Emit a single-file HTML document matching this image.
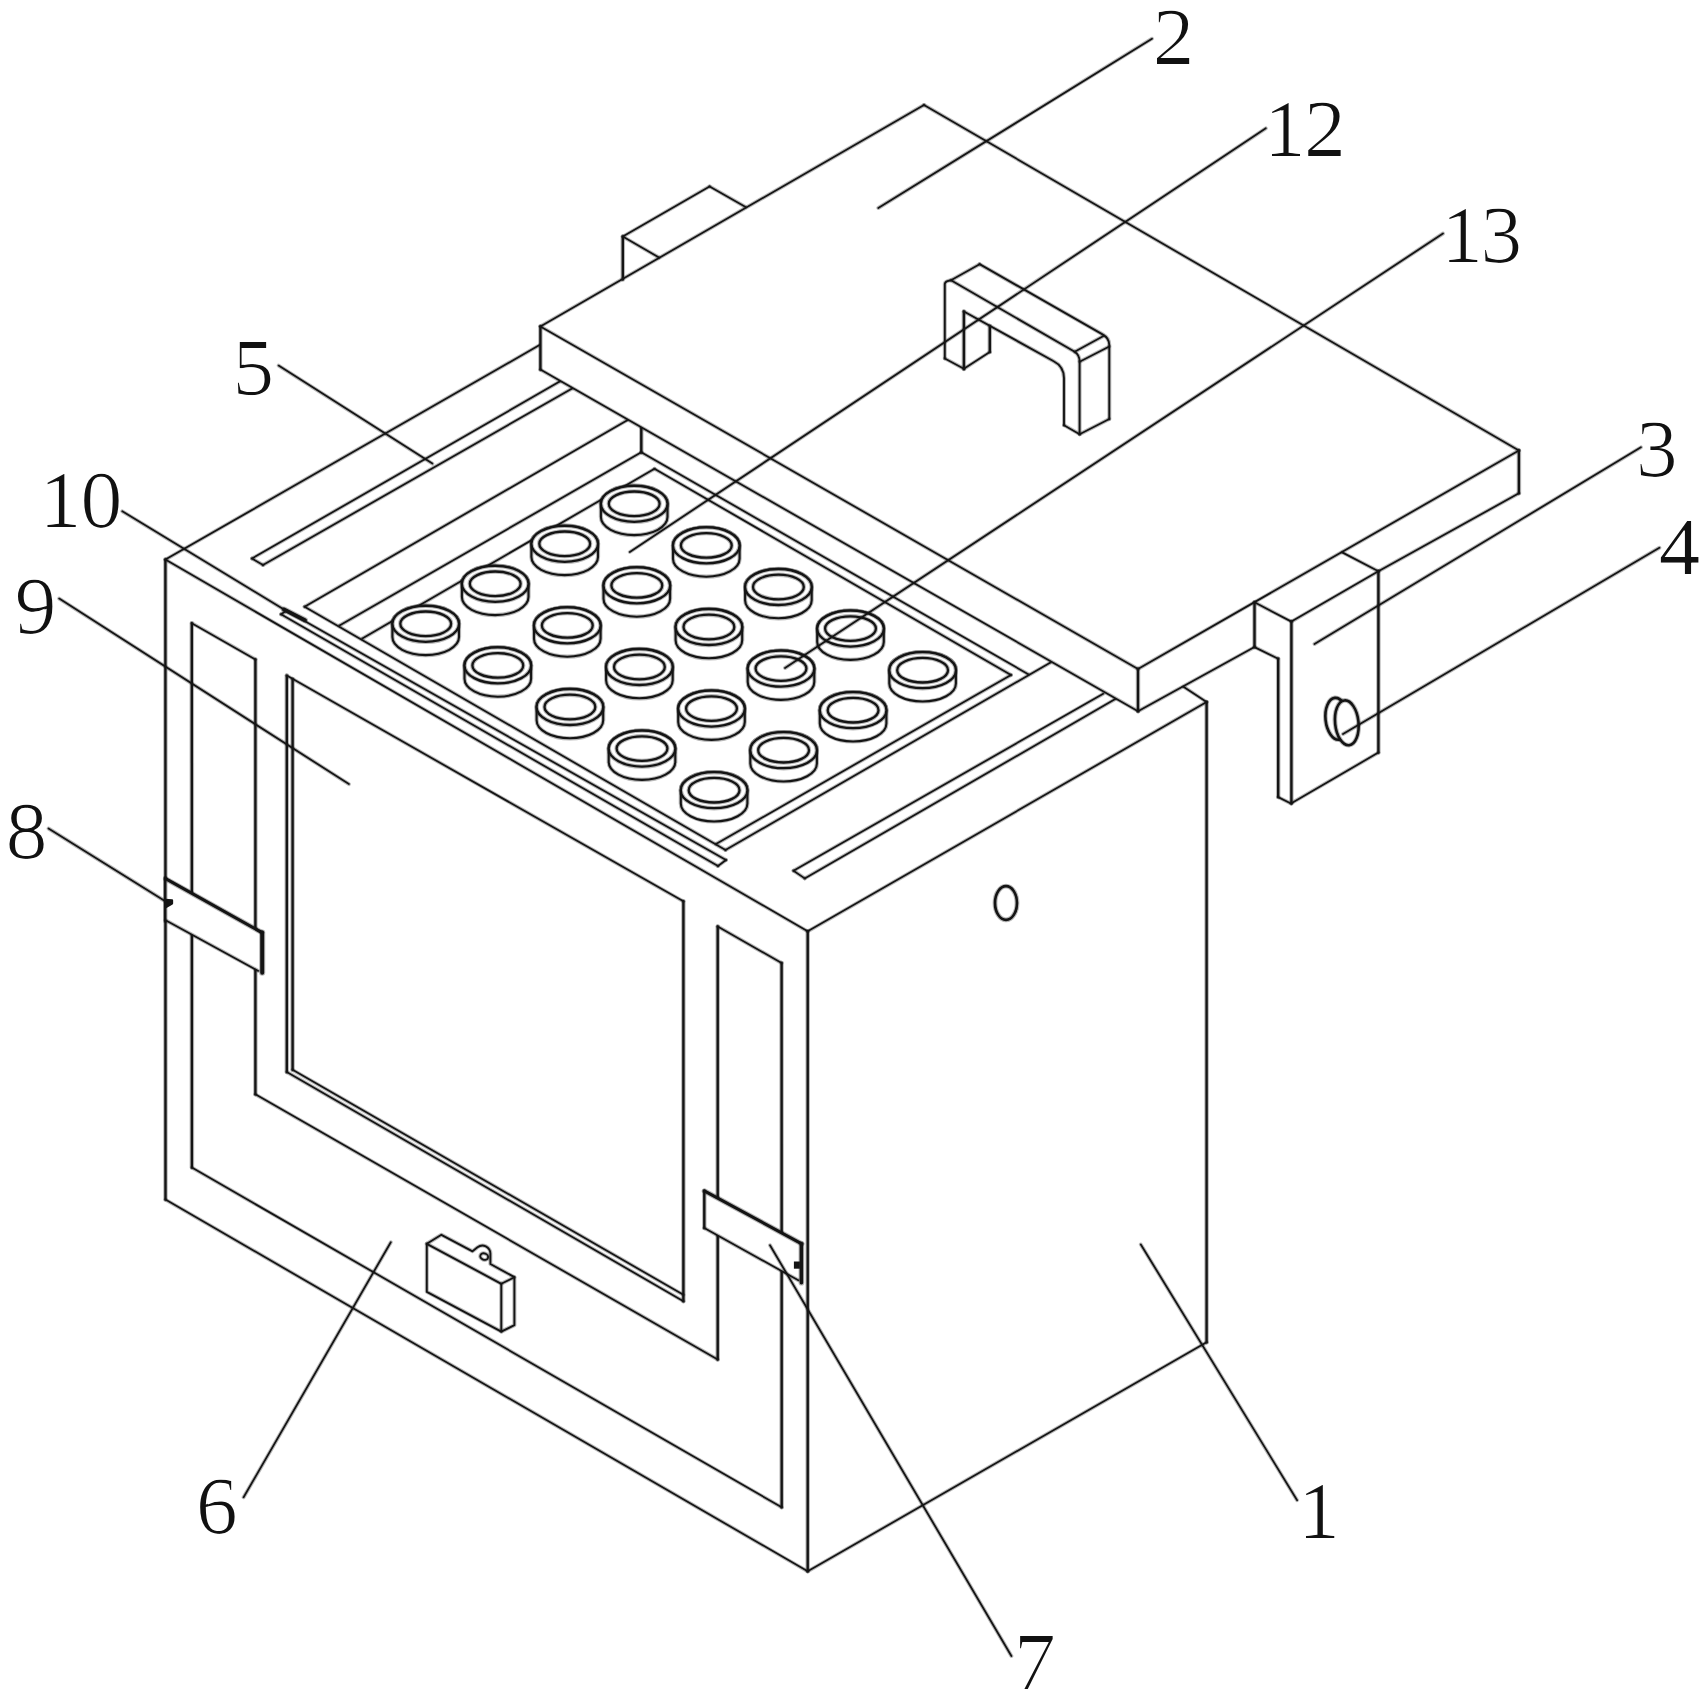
<!DOCTYPE html>
<html><head><meta charset="utf-8"><title>Figure</title>
<style>
html,body{margin:0;padding:0;background:#fff;}
svg{display:block;}
.g line,.g path,.g ellipse{stroke:#141414;stroke-width:2.3;stroke-linecap:round;stroke-linejoin:round;}
.g line{fill:none;}
text{font-family:"Liberation Serif",serif;font-size:80px;fill:#111;}
</style></head><body>
<svg width="1707" height="1699" viewBox="0 0 1707 1699">
<rect width="1707" height="1699" fill="#fff"/>
<g class="g">
<line x1="165.4" y1="559.6" x2="165.5" y2="1199.6" style="stroke-width:4.50;stroke-opacity:0.3"/>
<line x1="165.4" y1="559.6" x2="165.5" y2="1199.6" style="stroke-width:2.40"/>
<line x1="165.5" y1="1199.6" x2="807.7" y2="1571.3" style="stroke-width:3.85;stroke-opacity:0.3"/>
<line x1="165.5" y1="1199.6" x2="807.7" y2="1571.3" style="stroke-width:1.75"/>
<line x1="807.7" y1="1571.3" x2="1206.6" y2="1342.3" style="stroke-width:3.85;stroke-opacity:0.3"/>
<line x1="807.7" y1="1571.3" x2="1206.6" y2="1342.3" style="stroke-width:1.75"/>
<line x1="1206.6" y1="1342.3" x2="1206.6" y2="702.0" style="stroke-width:4.50;stroke-opacity:0.3"/>
<line x1="1206.6" y1="1342.3" x2="1206.6" y2="702.0" style="stroke-width:2.40"/>
<line x1="1206.6" y1="702.0" x2="807.7" y2="931.3" style="stroke-width:3.85;stroke-opacity:0.3"/>
<line x1="1206.6" y1="702.0" x2="807.7" y2="931.3" style="stroke-width:1.75"/>
<line x1="807.7" y1="931.3" x2="165.4" y2="559.6" style="stroke-width:3.85;stroke-opacity:0.3"/>
<line x1="807.7" y1="931.3" x2="165.4" y2="559.6" style="stroke-width:1.75"/>
<line x1="807.7" y1="931.3" x2="807.7" y2="1571.3" style="stroke-width:4.50;stroke-opacity:0.3"/>
<line x1="807.7" y1="931.3" x2="807.7" y2="1571.3" style="stroke-width:2.40"/>
<line x1="165.4" y1="559.6" x2="540.4" y2="344.6" style="stroke-width:3.85;stroke-opacity:0.3"/>
<line x1="165.4" y1="559.6" x2="540.4" y2="344.6" style="stroke-width:1.75"/>
<line x1="1182.3" y1="685.9" x2="1206.6" y2="702.0" style="stroke-width:3.85;stroke-opacity:0.3"/>
<line x1="1182.3" y1="685.9" x2="1206.6" y2="702.0" style="stroke-width:1.75"/>
<line x1="561.4" y1="380.6" x2="252.0" y2="558.5" style="stroke-width:3.85;stroke-opacity:0.3"/>
<line x1="561.4" y1="380.6" x2="252.0" y2="558.5" style="stroke-width:1.75"/>
<line x1="252.0" y1="558.5" x2="263.0" y2="565.0" style="stroke-width:3.85;stroke-opacity:0.3"/>
<line x1="252.0" y1="558.5" x2="263.0" y2="565.0" style="stroke-width:1.75"/>
<line x1="263.0" y1="565.0" x2="573.0" y2="388.0" style="stroke-width:3.85;stroke-opacity:0.3"/>
<line x1="263.0" y1="565.0" x2="573.0" y2="388.0" style="stroke-width:1.75"/>
<line x1="1103.2" y1="693.8" x2="793.5" y2="870.7" style="stroke-width:3.85;stroke-opacity:0.3"/>
<line x1="1103.2" y1="693.8" x2="793.5" y2="870.7" style="stroke-width:1.75"/>
<line x1="793.5" y1="870.7" x2="804.7" y2="878.4" style="stroke-width:3.85;stroke-opacity:0.3"/>
<line x1="793.5" y1="870.7" x2="804.7" y2="878.4" style="stroke-width:1.75"/>
<line x1="804.7" y1="878.4" x2="1115.3" y2="699.1" style="stroke-width:3.85;stroke-opacity:0.3"/>
<line x1="804.7" y1="878.4" x2="1115.3" y2="699.1" style="stroke-width:1.75"/>
<line x1="281.0" y1="614.3" x2="718.0" y2="866.0" style="stroke-width:3.85;stroke-opacity:0.3"/>
<line x1="281.0" y1="614.3" x2="718.0" y2="866.0" style="stroke-width:1.75"/>
<line x1="718.0" y1="866.0" x2="726.0" y2="860.0" style="stroke-width:3.85;stroke-opacity:0.3"/>
<line x1="718.0" y1="866.0" x2="726.0" y2="860.0" style="stroke-width:1.75"/>
<line x1="726.0" y1="860.0" x2="286.5" y2="610.8" style="stroke-width:3.85;stroke-opacity:0.3"/>
<line x1="726.0" y1="860.0" x2="286.5" y2="610.8" style="stroke-width:1.75"/>
<line x1="286.5" y1="610.8" x2="281.0" y2="614.3" style="stroke-width:3.85;stroke-opacity:0.3"/>
<line x1="286.5" y1="610.8" x2="281.0" y2="614.3" style="stroke-width:1.75"/>
<line x1="284.0" y1="609.5" x2="305.0" y2="620.2" style="stroke-width:5.90;stroke-opacity:0.3"/>
<line x1="284.0" y1="609.5" x2="305.0" y2="620.2" style="stroke-width:3.80"/>
<line x1="627.3" y1="420.2" x2="304.6" y2="606.7" style="stroke-width:3.85;stroke-opacity:0.3"/>
<line x1="627.3" y1="420.2" x2="304.6" y2="606.7" style="stroke-width:1.75"/>
<line x1="304.6" y1="606.7" x2="725.5" y2="850.0" style="stroke-width:3.85;stroke-opacity:0.3"/>
<line x1="304.6" y1="606.7" x2="725.5" y2="850.0" style="stroke-width:1.75"/>
<line x1="725.5" y1="850.0" x2="1050.5" y2="662.6" style="stroke-width:3.85;stroke-opacity:0.3"/>
<line x1="725.5" y1="850.0" x2="1050.5" y2="662.6" style="stroke-width:1.75"/>
<line x1="339.5" y1="625.5" x2="641.3" y2="452.3" style="stroke-width:3.85;stroke-opacity:0.3"/>
<line x1="339.5" y1="625.5" x2="641.3" y2="452.3" style="stroke-width:1.75"/>
<line x1="641.3" y1="452.3" x2="1028.2" y2="674.2" style="stroke-width:3.85;stroke-opacity:0.3"/>
<line x1="641.3" y1="452.3" x2="1028.2" y2="674.2" style="stroke-width:1.75"/>
<line x1="641.3" y1="426.7" x2="641.3" y2="452.3" style="stroke-width:4.50;stroke-opacity:0.3"/>
<line x1="641.3" y1="426.7" x2="641.3" y2="452.3" style="stroke-width:2.40"/>
<line x1="362.3" y1="638.5" x2="654.5" y2="468.8" style="stroke-width:3.85;stroke-opacity:0.3"/>
<line x1="362.3" y1="638.5" x2="654.5" y2="468.8" style="stroke-width:1.75"/>
<line x1="654.5" y1="468.8" x2="1011.0" y2="675.0" style="stroke-width:3.85;stroke-opacity:0.3"/>
<line x1="654.5" y1="468.8" x2="1011.0" y2="675.0" style="stroke-width:1.75"/>
<line x1="1011.0" y1="675.0" x2="716.0" y2="844.0" style="stroke-width:3.85;stroke-opacity:0.3"/>
<line x1="1011.0" y1="675.0" x2="716.0" y2="844.0" style="stroke-width:1.75"/>
<path d="M600.9 503.8 L600.9 517.1 A33.3 18.0 0 0 0 667.5 517.1 L667.5 503.8 A33.3 18.0 0 0 0 600.9 503.8 Z" fill="#fff" style="stroke:none"/>
<path d="M600.9 503.8 L600.9 517.1 A33.3 18.0 0 0 0 667.5 517.1 L667.5 503.8 A33.3 18.0 0 0 0 600.9 503.8 Z" fill="none" style="stroke-width:4.20;stroke-opacity:0.3"/>
<path d="M600.9 503.8 L600.9 517.1 A33.3 18.0 0 0 0 667.5 517.1 L667.5 503.8 A33.3 18.0 0 0 0 600.9 503.8 Z" fill="none" style="stroke-width:2.10"/>
<ellipse cx="634.2" cy="503.8" rx="33.3" ry="18.0" fill="#fff" style="stroke:none"/>
<ellipse cx="634.2" cy="503.8" rx="33.3" ry="18.0" fill="none" style="stroke-width:4.40;stroke-opacity:0.3"/>
<ellipse cx="634.2" cy="503.8" rx="33.3" ry="18.0" fill="none" style="stroke-width:2.30"/>
<ellipse cx="634.2" cy="503.8" rx="25.4" ry="12.3" fill="none" style="stroke-width:4.40;stroke-opacity:0.3"/>
<ellipse cx="634.2" cy="503.8" rx="25.4" ry="12.3" fill="none" style="stroke-width:2.30"/>
<path d="M673.0 545.4 L673.0 558.7 A33.3 18.0 0 0 0 739.6 558.7 L739.6 545.4 A33.3 18.0 0 0 0 673.0 545.4 Z" fill="#fff" style="stroke:none"/>
<path d="M673.0 545.4 L673.0 558.7 A33.3 18.0 0 0 0 739.6 558.7 L739.6 545.4 A33.3 18.0 0 0 0 673.0 545.4 Z" fill="none" style="stroke-width:4.20;stroke-opacity:0.3"/>
<path d="M673.0 545.4 L673.0 558.7 A33.3 18.0 0 0 0 739.6 558.7 L739.6 545.4 A33.3 18.0 0 0 0 673.0 545.4 Z" fill="none" style="stroke-width:2.10"/>
<ellipse cx="706.3" cy="545.4" rx="33.3" ry="18.0" fill="#fff" style="stroke:none"/>
<ellipse cx="706.3" cy="545.4" rx="33.3" ry="18.0" fill="none" style="stroke-width:4.40;stroke-opacity:0.3"/>
<ellipse cx="706.3" cy="545.4" rx="33.3" ry="18.0" fill="none" style="stroke-width:2.30"/>
<ellipse cx="706.3" cy="545.4" rx="25.4" ry="12.3" fill="none" style="stroke-width:4.40;stroke-opacity:0.3"/>
<ellipse cx="706.3" cy="545.4" rx="25.4" ry="12.3" fill="none" style="stroke-width:2.30"/>
<path d="M745.1 587.0 L745.1 600.3 A33.3 18.0 0 0 0 811.7 600.3 L811.7 587.0 A33.3 18.0 0 0 0 745.1 587.0 Z" fill="#fff" style="stroke:none"/>
<path d="M745.1 587.0 L745.1 600.3 A33.3 18.0 0 0 0 811.7 600.3 L811.7 587.0 A33.3 18.0 0 0 0 745.1 587.0 Z" fill="none" style="stroke-width:4.20;stroke-opacity:0.3"/>
<path d="M745.1 587.0 L745.1 600.3 A33.3 18.0 0 0 0 811.7 600.3 L811.7 587.0 A33.3 18.0 0 0 0 745.1 587.0 Z" fill="none" style="stroke-width:2.10"/>
<ellipse cx="778.4" cy="587.0" rx="33.3" ry="18.0" fill="#fff" style="stroke:none"/>
<ellipse cx="778.4" cy="587.0" rx="33.3" ry="18.0" fill="none" style="stroke-width:4.40;stroke-opacity:0.3"/>
<ellipse cx="778.4" cy="587.0" rx="33.3" ry="18.0" fill="none" style="stroke-width:2.30"/>
<ellipse cx="778.4" cy="587.0" rx="25.4" ry="12.3" fill="none" style="stroke-width:4.40;stroke-opacity:0.3"/>
<ellipse cx="778.4" cy="587.0" rx="25.4" ry="12.3" fill="none" style="stroke-width:2.30"/>
<path d="M817.2 628.6 L817.2 641.9 A33.3 18.0 0 0 0 883.8 641.9 L883.8 628.6 A33.3 18.0 0 0 0 817.2 628.6 Z" fill="#fff" style="stroke:none"/>
<path d="M817.2 628.6 L817.2 641.9 A33.3 18.0 0 0 0 883.8 641.9 L883.8 628.6 A33.3 18.0 0 0 0 817.2 628.6 Z" fill="none" style="stroke-width:4.20;stroke-opacity:0.3"/>
<path d="M817.2 628.6 L817.2 641.9 A33.3 18.0 0 0 0 883.8 641.9 L883.8 628.6 A33.3 18.0 0 0 0 817.2 628.6 Z" fill="none" style="stroke-width:2.10"/>
<ellipse cx="850.5" cy="628.6" rx="33.3" ry="18.0" fill="#fff" style="stroke:none"/>
<ellipse cx="850.5" cy="628.6" rx="33.3" ry="18.0" fill="none" style="stroke-width:4.40;stroke-opacity:0.3"/>
<ellipse cx="850.5" cy="628.6" rx="33.3" ry="18.0" fill="none" style="stroke-width:2.30"/>
<ellipse cx="850.5" cy="628.6" rx="25.4" ry="12.3" fill="none" style="stroke-width:4.40;stroke-opacity:0.3"/>
<ellipse cx="850.5" cy="628.6" rx="25.4" ry="12.3" fill="none" style="stroke-width:2.30"/>
<path d="M889.3 670.2 L889.3 683.5 A33.3 18.0 0 0 0 955.9 683.5 L955.9 670.2 A33.3 18.0 0 0 0 889.3 670.2 Z" fill="#fff" style="stroke:none"/>
<path d="M889.3 670.2 L889.3 683.5 A33.3 18.0 0 0 0 955.9 683.5 L955.9 670.2 A33.3 18.0 0 0 0 889.3 670.2 Z" fill="none" style="stroke-width:4.20;stroke-opacity:0.3"/>
<path d="M889.3 670.2 L889.3 683.5 A33.3 18.0 0 0 0 955.9 683.5 L955.9 670.2 A33.3 18.0 0 0 0 889.3 670.2 Z" fill="none" style="stroke-width:2.10"/>
<ellipse cx="922.6" cy="670.2" rx="33.3" ry="18.0" fill="#fff" style="stroke:none"/>
<ellipse cx="922.6" cy="670.2" rx="33.3" ry="18.0" fill="none" style="stroke-width:4.40;stroke-opacity:0.3"/>
<ellipse cx="922.6" cy="670.2" rx="33.3" ry="18.0" fill="none" style="stroke-width:2.30"/>
<ellipse cx="922.6" cy="670.2" rx="25.4" ry="12.3" fill="none" style="stroke-width:4.40;stroke-opacity:0.3"/>
<ellipse cx="922.6" cy="670.2" rx="25.4" ry="12.3" fill="none" style="stroke-width:2.30"/>
<path d="M531.4 543.8 L531.4 557.1 A33.3 18.0 0 0 0 598.0 557.1 L598.0 543.8 A33.3 18.0 0 0 0 531.4 543.8 Z" fill="#fff" style="stroke:none"/>
<path d="M531.4 543.8 L531.4 557.1 A33.3 18.0 0 0 0 598.0 557.1 L598.0 543.8 A33.3 18.0 0 0 0 531.4 543.8 Z" fill="none" style="stroke-width:4.20;stroke-opacity:0.3"/>
<path d="M531.4 543.8 L531.4 557.1 A33.3 18.0 0 0 0 598.0 557.1 L598.0 543.8 A33.3 18.0 0 0 0 531.4 543.8 Z" fill="none" style="stroke-width:2.10"/>
<ellipse cx="564.7" cy="543.8" rx="33.3" ry="18.0" fill="#fff" style="stroke:none"/>
<ellipse cx="564.7" cy="543.8" rx="33.3" ry="18.0" fill="none" style="stroke-width:4.40;stroke-opacity:0.3"/>
<ellipse cx="564.7" cy="543.8" rx="33.3" ry="18.0" fill="none" style="stroke-width:2.30"/>
<ellipse cx="564.7" cy="543.8" rx="25.4" ry="12.3" fill="none" style="stroke-width:4.40;stroke-opacity:0.3"/>
<ellipse cx="564.7" cy="543.8" rx="25.4" ry="12.3" fill="none" style="stroke-width:2.30"/>
<path d="M603.5 585.4 L603.5 598.7 A33.3 18.0 0 0 0 670.1 598.7 L670.1 585.4 A33.3 18.0 0 0 0 603.5 585.4 Z" fill="#fff" style="stroke:none"/>
<path d="M603.5 585.4 L603.5 598.7 A33.3 18.0 0 0 0 670.1 598.7 L670.1 585.4 A33.3 18.0 0 0 0 603.5 585.4 Z" fill="none" style="stroke-width:4.20;stroke-opacity:0.3"/>
<path d="M603.5 585.4 L603.5 598.7 A33.3 18.0 0 0 0 670.1 598.7 L670.1 585.4 A33.3 18.0 0 0 0 603.5 585.4 Z" fill="none" style="stroke-width:2.10"/>
<ellipse cx="636.8" cy="585.4" rx="33.3" ry="18.0" fill="#fff" style="stroke:none"/>
<ellipse cx="636.8" cy="585.4" rx="33.3" ry="18.0" fill="none" style="stroke-width:4.40;stroke-opacity:0.3"/>
<ellipse cx="636.8" cy="585.4" rx="33.3" ry="18.0" fill="none" style="stroke-width:2.30"/>
<ellipse cx="636.8" cy="585.4" rx="25.4" ry="12.3" fill="none" style="stroke-width:4.40;stroke-opacity:0.3"/>
<ellipse cx="636.8" cy="585.4" rx="25.4" ry="12.3" fill="none" style="stroke-width:2.30"/>
<path d="M675.6 627.0 L675.6 640.3 A33.3 18.0 0 0 0 742.2 640.3 L742.2 627.0 A33.3 18.0 0 0 0 675.6 627.0 Z" fill="#fff" style="stroke:none"/>
<path d="M675.6 627.0 L675.6 640.3 A33.3 18.0 0 0 0 742.2 640.3 L742.2 627.0 A33.3 18.0 0 0 0 675.6 627.0 Z" fill="none" style="stroke-width:4.20;stroke-opacity:0.3"/>
<path d="M675.6 627.0 L675.6 640.3 A33.3 18.0 0 0 0 742.2 640.3 L742.2 627.0 A33.3 18.0 0 0 0 675.6 627.0 Z" fill="none" style="stroke-width:2.10"/>
<ellipse cx="708.9" cy="627.0" rx="33.3" ry="18.0" fill="#fff" style="stroke:none"/>
<ellipse cx="708.9" cy="627.0" rx="33.3" ry="18.0" fill="none" style="stroke-width:4.40;stroke-opacity:0.3"/>
<ellipse cx="708.9" cy="627.0" rx="33.3" ry="18.0" fill="none" style="stroke-width:2.30"/>
<ellipse cx="708.9" cy="627.0" rx="25.4" ry="12.3" fill="none" style="stroke-width:4.40;stroke-opacity:0.3"/>
<ellipse cx="708.9" cy="627.0" rx="25.4" ry="12.3" fill="none" style="stroke-width:2.30"/>
<path d="M747.7 668.6 L747.7 681.9 A33.3 18.0 0 0 0 814.3 681.9 L814.3 668.6 A33.3 18.0 0 0 0 747.7 668.6 Z" fill="#fff" style="stroke:none"/>
<path d="M747.7 668.6 L747.7 681.9 A33.3 18.0 0 0 0 814.3 681.9 L814.3 668.6 A33.3 18.0 0 0 0 747.7 668.6 Z" fill="none" style="stroke-width:4.20;stroke-opacity:0.3"/>
<path d="M747.7 668.6 L747.7 681.9 A33.3 18.0 0 0 0 814.3 681.9 L814.3 668.6 A33.3 18.0 0 0 0 747.7 668.6 Z" fill="none" style="stroke-width:2.10"/>
<ellipse cx="781.0" cy="668.6" rx="33.3" ry="18.0" fill="#fff" style="stroke:none"/>
<ellipse cx="781.0" cy="668.6" rx="33.3" ry="18.0" fill="none" style="stroke-width:4.40;stroke-opacity:0.3"/>
<ellipse cx="781.0" cy="668.6" rx="33.3" ry="18.0" fill="none" style="stroke-width:2.30"/>
<ellipse cx="781.0" cy="668.6" rx="25.4" ry="12.3" fill="none" style="stroke-width:4.40;stroke-opacity:0.3"/>
<ellipse cx="781.0" cy="668.6" rx="25.4" ry="12.3" fill="none" style="stroke-width:2.30"/>
<path d="M819.8 710.2 L819.8 723.5 A33.3 18.0 0 0 0 886.4 723.5 L886.4 710.2 A33.3 18.0 0 0 0 819.8 710.2 Z" fill="#fff" style="stroke:none"/>
<path d="M819.8 710.2 L819.8 723.5 A33.3 18.0 0 0 0 886.4 723.5 L886.4 710.2 A33.3 18.0 0 0 0 819.8 710.2 Z" fill="none" style="stroke-width:4.20;stroke-opacity:0.3"/>
<path d="M819.8 710.2 L819.8 723.5 A33.3 18.0 0 0 0 886.4 723.5 L886.4 710.2 A33.3 18.0 0 0 0 819.8 710.2 Z" fill="none" style="stroke-width:2.10"/>
<ellipse cx="853.1" cy="710.2" rx="33.3" ry="18.0" fill="#fff" style="stroke:none"/>
<ellipse cx="853.1" cy="710.2" rx="33.3" ry="18.0" fill="none" style="stroke-width:4.40;stroke-opacity:0.3"/>
<ellipse cx="853.1" cy="710.2" rx="33.3" ry="18.0" fill="none" style="stroke-width:2.30"/>
<ellipse cx="853.1" cy="710.2" rx="25.4" ry="12.3" fill="none" style="stroke-width:4.40;stroke-opacity:0.3"/>
<ellipse cx="853.1" cy="710.2" rx="25.4" ry="12.3" fill="none" style="stroke-width:2.30"/>
<path d="M461.9 583.8 L461.9 597.1 A33.3 18.0 0 0 0 528.5 597.1 L528.5 583.8 A33.3 18.0 0 0 0 461.9 583.8 Z" fill="#fff" style="stroke:none"/>
<path d="M461.9 583.8 L461.9 597.1 A33.3 18.0 0 0 0 528.5 597.1 L528.5 583.8 A33.3 18.0 0 0 0 461.9 583.8 Z" fill="none" style="stroke-width:4.20;stroke-opacity:0.3"/>
<path d="M461.9 583.8 L461.9 597.1 A33.3 18.0 0 0 0 528.5 597.1 L528.5 583.8 A33.3 18.0 0 0 0 461.9 583.8 Z" fill="none" style="stroke-width:2.10"/>
<ellipse cx="495.2" cy="583.8" rx="33.3" ry="18.0" fill="#fff" style="stroke:none"/>
<ellipse cx="495.2" cy="583.8" rx="33.3" ry="18.0" fill="none" style="stroke-width:4.40;stroke-opacity:0.3"/>
<ellipse cx="495.2" cy="583.8" rx="33.3" ry="18.0" fill="none" style="stroke-width:2.30"/>
<ellipse cx="495.2" cy="583.8" rx="25.4" ry="12.3" fill="none" style="stroke-width:4.40;stroke-opacity:0.3"/>
<ellipse cx="495.2" cy="583.8" rx="25.4" ry="12.3" fill="none" style="stroke-width:2.30"/>
<path d="M534.0 625.4 L534.0 638.7 A33.3 18.0 0 0 0 600.6 638.7 L600.6 625.4 A33.3 18.0 0 0 0 534.0 625.4 Z" fill="#fff" style="stroke:none"/>
<path d="M534.0 625.4 L534.0 638.7 A33.3 18.0 0 0 0 600.6 638.7 L600.6 625.4 A33.3 18.0 0 0 0 534.0 625.4 Z" fill="none" style="stroke-width:4.20;stroke-opacity:0.3"/>
<path d="M534.0 625.4 L534.0 638.7 A33.3 18.0 0 0 0 600.6 638.7 L600.6 625.4 A33.3 18.0 0 0 0 534.0 625.4 Z" fill="none" style="stroke-width:2.10"/>
<ellipse cx="567.3" cy="625.4" rx="33.3" ry="18.0" fill="#fff" style="stroke:none"/>
<ellipse cx="567.3" cy="625.4" rx="33.3" ry="18.0" fill="none" style="stroke-width:4.40;stroke-opacity:0.3"/>
<ellipse cx="567.3" cy="625.4" rx="33.3" ry="18.0" fill="none" style="stroke-width:2.30"/>
<ellipse cx="567.3" cy="625.4" rx="25.4" ry="12.3" fill="none" style="stroke-width:4.40;stroke-opacity:0.3"/>
<ellipse cx="567.3" cy="625.4" rx="25.4" ry="12.3" fill="none" style="stroke-width:2.30"/>
<path d="M606.1 667.0 L606.1 680.3 A33.3 18.0 0 0 0 672.7 680.3 L672.7 667.0 A33.3 18.0 0 0 0 606.1 667.0 Z" fill="#fff" style="stroke:none"/>
<path d="M606.1 667.0 L606.1 680.3 A33.3 18.0 0 0 0 672.7 680.3 L672.7 667.0 A33.3 18.0 0 0 0 606.1 667.0 Z" fill="none" style="stroke-width:4.20;stroke-opacity:0.3"/>
<path d="M606.1 667.0 L606.1 680.3 A33.3 18.0 0 0 0 672.7 680.3 L672.7 667.0 A33.3 18.0 0 0 0 606.1 667.0 Z" fill="none" style="stroke-width:2.10"/>
<ellipse cx="639.4" cy="667.0" rx="33.3" ry="18.0" fill="#fff" style="stroke:none"/>
<ellipse cx="639.4" cy="667.0" rx="33.3" ry="18.0" fill="none" style="stroke-width:4.40;stroke-opacity:0.3"/>
<ellipse cx="639.4" cy="667.0" rx="33.3" ry="18.0" fill="none" style="stroke-width:2.30"/>
<ellipse cx="639.4" cy="667.0" rx="25.4" ry="12.3" fill="none" style="stroke-width:4.40;stroke-opacity:0.3"/>
<ellipse cx="639.4" cy="667.0" rx="25.4" ry="12.3" fill="none" style="stroke-width:2.30"/>
<path d="M678.2 708.6 L678.2 721.9 A33.3 18.0 0 0 0 744.8 721.9 L744.8 708.6 A33.3 18.0 0 0 0 678.2 708.6 Z" fill="#fff" style="stroke:none"/>
<path d="M678.2 708.6 L678.2 721.9 A33.3 18.0 0 0 0 744.8 721.9 L744.8 708.6 A33.3 18.0 0 0 0 678.2 708.6 Z" fill="none" style="stroke-width:4.20;stroke-opacity:0.3"/>
<path d="M678.2 708.6 L678.2 721.9 A33.3 18.0 0 0 0 744.8 721.9 L744.8 708.6 A33.3 18.0 0 0 0 678.2 708.6 Z" fill="none" style="stroke-width:2.10"/>
<ellipse cx="711.5" cy="708.6" rx="33.3" ry="18.0" fill="#fff" style="stroke:none"/>
<ellipse cx="711.5" cy="708.6" rx="33.3" ry="18.0" fill="none" style="stroke-width:4.40;stroke-opacity:0.3"/>
<ellipse cx="711.5" cy="708.6" rx="33.3" ry="18.0" fill="none" style="stroke-width:2.30"/>
<ellipse cx="711.5" cy="708.6" rx="25.4" ry="12.3" fill="none" style="stroke-width:4.40;stroke-opacity:0.3"/>
<ellipse cx="711.5" cy="708.6" rx="25.4" ry="12.3" fill="none" style="stroke-width:2.30"/>
<path d="M750.3 750.2 L750.3 763.5 A33.3 18.0 0 0 0 816.9 763.5 L816.9 750.2 A33.3 18.0 0 0 0 750.3 750.2 Z" fill="#fff" style="stroke:none"/>
<path d="M750.3 750.2 L750.3 763.5 A33.3 18.0 0 0 0 816.9 763.5 L816.9 750.2 A33.3 18.0 0 0 0 750.3 750.2 Z" fill="none" style="stroke-width:4.20;stroke-opacity:0.3"/>
<path d="M750.3 750.2 L750.3 763.5 A33.3 18.0 0 0 0 816.9 763.5 L816.9 750.2 A33.3 18.0 0 0 0 750.3 750.2 Z" fill="none" style="stroke-width:2.10"/>
<ellipse cx="783.6" cy="750.2" rx="33.3" ry="18.0" fill="#fff" style="stroke:none"/>
<ellipse cx="783.6" cy="750.2" rx="33.3" ry="18.0" fill="none" style="stroke-width:4.40;stroke-opacity:0.3"/>
<ellipse cx="783.6" cy="750.2" rx="33.3" ry="18.0" fill="none" style="stroke-width:2.30"/>
<ellipse cx="783.6" cy="750.2" rx="25.4" ry="12.3" fill="none" style="stroke-width:4.40;stroke-opacity:0.3"/>
<ellipse cx="783.6" cy="750.2" rx="25.4" ry="12.3" fill="none" style="stroke-width:2.30"/>
<path d="M392.4 623.8 L392.4 637.1 A33.3 18.0 0 0 0 459.0 637.1 L459.0 623.8 A33.3 18.0 0 0 0 392.4 623.8 Z" fill="#fff" style="stroke:none"/>
<path d="M392.4 623.8 L392.4 637.1 A33.3 18.0 0 0 0 459.0 637.1 L459.0 623.8 A33.3 18.0 0 0 0 392.4 623.8 Z" fill="none" style="stroke-width:4.20;stroke-opacity:0.3"/>
<path d="M392.4 623.8 L392.4 637.1 A33.3 18.0 0 0 0 459.0 637.1 L459.0 623.8 A33.3 18.0 0 0 0 392.4 623.8 Z" fill="none" style="stroke-width:2.10"/>
<ellipse cx="425.7" cy="623.8" rx="33.3" ry="18.0" fill="#fff" style="stroke:none"/>
<ellipse cx="425.7" cy="623.8" rx="33.3" ry="18.0" fill="none" style="stroke-width:4.40;stroke-opacity:0.3"/>
<ellipse cx="425.7" cy="623.8" rx="33.3" ry="18.0" fill="none" style="stroke-width:2.30"/>
<ellipse cx="425.7" cy="623.8" rx="25.4" ry="12.3" fill="none" style="stroke-width:4.40;stroke-opacity:0.3"/>
<ellipse cx="425.7" cy="623.8" rx="25.4" ry="12.3" fill="none" style="stroke-width:2.30"/>
<path d="M464.5 665.4 L464.5 678.7 A33.3 18.0 0 0 0 531.1 678.7 L531.1 665.4 A33.3 18.0 0 0 0 464.5 665.4 Z" fill="#fff" style="stroke:none"/>
<path d="M464.5 665.4 L464.5 678.7 A33.3 18.0 0 0 0 531.1 678.7 L531.1 665.4 A33.3 18.0 0 0 0 464.5 665.4 Z" fill="none" style="stroke-width:4.20;stroke-opacity:0.3"/>
<path d="M464.5 665.4 L464.5 678.7 A33.3 18.0 0 0 0 531.1 678.7 L531.1 665.4 A33.3 18.0 0 0 0 464.5 665.4 Z" fill="none" style="stroke-width:2.10"/>
<ellipse cx="497.8" cy="665.4" rx="33.3" ry="18.0" fill="#fff" style="stroke:none"/>
<ellipse cx="497.8" cy="665.4" rx="33.3" ry="18.0" fill="none" style="stroke-width:4.40;stroke-opacity:0.3"/>
<ellipse cx="497.8" cy="665.4" rx="33.3" ry="18.0" fill="none" style="stroke-width:2.30"/>
<ellipse cx="497.8" cy="665.4" rx="25.4" ry="12.3" fill="none" style="stroke-width:4.40;stroke-opacity:0.3"/>
<ellipse cx="497.8" cy="665.4" rx="25.4" ry="12.3" fill="none" style="stroke-width:2.30"/>
<path d="M536.6 707.0 L536.6 720.3 A33.3 18.0 0 0 0 603.2 720.3 L603.2 707.0 A33.3 18.0 0 0 0 536.6 707.0 Z" fill="#fff" style="stroke:none"/>
<path d="M536.6 707.0 L536.6 720.3 A33.3 18.0 0 0 0 603.2 720.3 L603.2 707.0 A33.3 18.0 0 0 0 536.6 707.0 Z" fill="none" style="stroke-width:4.20;stroke-opacity:0.3"/>
<path d="M536.6 707.0 L536.6 720.3 A33.3 18.0 0 0 0 603.2 720.3 L603.2 707.0 A33.3 18.0 0 0 0 536.6 707.0 Z" fill="none" style="stroke-width:2.10"/>
<ellipse cx="569.9" cy="707.0" rx="33.3" ry="18.0" fill="#fff" style="stroke:none"/>
<ellipse cx="569.9" cy="707.0" rx="33.3" ry="18.0" fill="none" style="stroke-width:4.40;stroke-opacity:0.3"/>
<ellipse cx="569.9" cy="707.0" rx="33.3" ry="18.0" fill="none" style="stroke-width:2.30"/>
<ellipse cx="569.9" cy="707.0" rx="25.4" ry="12.3" fill="none" style="stroke-width:4.40;stroke-opacity:0.3"/>
<ellipse cx="569.9" cy="707.0" rx="25.4" ry="12.3" fill="none" style="stroke-width:2.30"/>
<path d="M608.7 748.6 L608.7 761.9 A33.3 18.0 0 0 0 675.3 761.9 L675.3 748.6 A33.3 18.0 0 0 0 608.7 748.6 Z" fill="#fff" style="stroke:none"/>
<path d="M608.7 748.6 L608.7 761.9 A33.3 18.0 0 0 0 675.3 761.9 L675.3 748.6 A33.3 18.0 0 0 0 608.7 748.6 Z" fill="none" style="stroke-width:4.20;stroke-opacity:0.3"/>
<path d="M608.7 748.6 L608.7 761.9 A33.3 18.0 0 0 0 675.3 761.9 L675.3 748.6 A33.3 18.0 0 0 0 608.7 748.6 Z" fill="none" style="stroke-width:2.10"/>
<ellipse cx="642.0" cy="748.6" rx="33.3" ry="18.0" fill="#fff" style="stroke:none"/>
<ellipse cx="642.0" cy="748.6" rx="33.3" ry="18.0" fill="none" style="stroke-width:4.40;stroke-opacity:0.3"/>
<ellipse cx="642.0" cy="748.6" rx="33.3" ry="18.0" fill="none" style="stroke-width:2.30"/>
<ellipse cx="642.0" cy="748.6" rx="25.4" ry="12.3" fill="none" style="stroke-width:4.40;stroke-opacity:0.3"/>
<ellipse cx="642.0" cy="748.6" rx="25.4" ry="12.3" fill="none" style="stroke-width:2.30"/>
<path d="M680.8 790.2 L680.8 803.5 A33.3 18.0 0 0 0 747.4 803.5 L747.4 790.2 A33.3 18.0 0 0 0 680.8 790.2 Z" fill="#fff" style="stroke:none"/>
<path d="M680.8 790.2 L680.8 803.5 A33.3 18.0 0 0 0 747.4 803.5 L747.4 790.2 A33.3 18.0 0 0 0 680.8 790.2 Z" fill="none" style="stroke-width:4.20;stroke-opacity:0.3"/>
<path d="M680.8 790.2 L680.8 803.5 A33.3 18.0 0 0 0 747.4 803.5 L747.4 790.2 A33.3 18.0 0 0 0 680.8 790.2 Z" fill="none" style="stroke-width:2.10"/>
<ellipse cx="714.1" cy="790.2" rx="33.3" ry="18.0" fill="#fff" style="stroke:none"/>
<ellipse cx="714.1" cy="790.2" rx="33.3" ry="18.0" fill="none" style="stroke-width:4.40;stroke-opacity:0.3"/>
<ellipse cx="714.1" cy="790.2" rx="33.3" ry="18.0" fill="none" style="stroke-width:2.30"/>
<ellipse cx="714.1" cy="790.2" rx="25.4" ry="12.3" fill="none" style="stroke-width:4.40;stroke-opacity:0.3"/>
<ellipse cx="714.1" cy="790.2" rx="25.4" ry="12.3" fill="none" style="stroke-width:2.30"/>
<path d="M540.4 326.4 L924.0 105.0 L1518.9 450.5 L1518.9 493.3 L1138.0 711.2 L540.4 369.6 Z" fill="#fff" style="stroke:none"/>
<line x1="540.4" y1="326.4" x2="924.0" y2="105.0" style="stroke-width:3.85;stroke-opacity:0.3"/>
<line x1="540.4" y1="326.4" x2="924.0" y2="105.0" style="stroke-width:1.75"/>
<line x1="924.0" y1="105.0" x2="1518.9" y2="450.5" style="stroke-width:3.85;stroke-opacity:0.3"/>
<line x1="924.0" y1="105.0" x2="1518.9" y2="450.5" style="stroke-width:1.75"/>
<line x1="1518.9" y1="450.5" x2="1138.0" y2="669.0" style="stroke-width:3.85;stroke-opacity:0.3"/>
<line x1="1518.9" y1="450.5" x2="1138.0" y2="669.0" style="stroke-width:1.75"/>
<line x1="1138.0" y1="669.0" x2="540.4" y2="326.4" style="stroke-width:3.85;stroke-opacity:0.3"/>
<line x1="1138.0" y1="669.0" x2="540.4" y2="326.4" style="stroke-width:1.75"/>
<line x1="1138.0" y1="669.0" x2="1138.0" y2="711.2" style="stroke-width:4.50;stroke-opacity:0.3"/>
<line x1="1138.0" y1="669.0" x2="1138.0" y2="711.2" style="stroke-width:2.40"/>
<line x1="1518.9" y1="450.5" x2="1518.9" y2="493.3" style="stroke-width:4.50;stroke-opacity:0.3"/>
<line x1="1518.9" y1="450.5" x2="1518.9" y2="493.3" style="stroke-width:2.40"/>
<line x1="540.4" y1="326.4" x2="540.4" y2="369.6" style="stroke-width:4.50;stroke-opacity:0.3"/>
<line x1="540.4" y1="326.4" x2="540.4" y2="369.6" style="stroke-width:2.40"/>
<line x1="540.4" y1="369.6" x2="1138.0" y2="711.2" style="stroke-width:3.85;stroke-opacity:0.3"/>
<line x1="540.4" y1="369.6" x2="1138.0" y2="711.2" style="stroke-width:1.75"/>
<line x1="1138.0" y1="711.2" x2="1254.5" y2="647.1" style="stroke-width:3.85;stroke-opacity:0.3"/>
<line x1="1138.0" y1="711.2" x2="1254.5" y2="647.1" style="stroke-width:1.75"/>
<line x1="1378.4" y1="571.3" x2="1518.9" y2="493.3" style="stroke-width:3.85;stroke-opacity:0.3"/>
<line x1="1378.4" y1="571.3" x2="1518.9" y2="493.3" style="stroke-width:1.75"/>
<line x1="622.8" y1="279.5" x2="622.8" y2="236.6" style="stroke-width:4.50;stroke-opacity:0.3"/>
<line x1="622.8" y1="279.5" x2="622.8" y2="236.6" style="stroke-width:2.40"/>
<line x1="622.8" y1="236.6" x2="709.6" y2="186.4" style="stroke-width:3.85;stroke-opacity:0.3"/>
<line x1="622.8" y1="236.6" x2="709.6" y2="186.4" style="stroke-width:1.75"/>
<line x1="709.6" y1="186.4" x2="745.6" y2="207.0" style="stroke-width:3.85;stroke-opacity:0.3"/>
<line x1="709.6" y1="186.4" x2="745.6" y2="207.0" style="stroke-width:1.75"/>
<line x1="622.8" y1="236.6" x2="659.0" y2="257.5" style="stroke-width:3.85;stroke-opacity:0.3"/>
<line x1="622.8" y1="236.6" x2="659.0" y2="257.5" style="stroke-width:1.75"/>
<path d="M944.8 358.4 L944.8 284 Q945 281 951 280.2 L1074.7 351.8 Q1079.6 355 1079.6 361.7 L1079.6 434.2" fill="none" style="stroke-width:4.00;stroke-opacity:0.3"/>
<path d="M944.8 358.4 L944.8 284 Q945 281 951 280.2 L1074.7 351.8 Q1079.6 355 1079.6 361.7 L1079.6 434.2" fill="none" style="stroke-width:1.90"/>
<line x1="951.0" y1="280.2" x2="979.6" y2="264.2" style="stroke-width:3.85;stroke-opacity:0.3"/>
<line x1="951.0" y1="280.2" x2="979.6" y2="264.2" style="stroke-width:1.75"/>
<path d="M979.6 264.2 L1102.5 334.3 Q1109.3 338 1109.3 345 L1109.3 419" fill="none" style="stroke-width:4.00;stroke-opacity:0.3"/>
<path d="M979.6 264.2 L1102.5 334.3 Q1109.3 338 1109.3 345 L1109.3 419" fill="none" style="stroke-width:1.90"/>
<line x1="1074.7" y1="351.8" x2="1103.5" y2="336.0" style="stroke-width:3.85;stroke-opacity:0.3"/>
<line x1="1074.7" y1="351.8" x2="1103.5" y2="336.0" style="stroke-width:1.75"/>
<line x1="1079.6" y1="361.7" x2="1109.3" y2="346.5" style="stroke-width:3.85;stroke-opacity:0.3"/>
<line x1="1079.6" y1="361.7" x2="1109.3" y2="346.5" style="stroke-width:1.75"/>
<line x1="1109.3" y1="419.0" x2="1079.6" y2="434.2" style="stroke-width:3.85;stroke-opacity:0.3"/>
<line x1="1109.3" y1="419.0" x2="1079.6" y2="434.2" style="stroke-width:1.75"/>
<line x1="1079.6" y1="434.2" x2="1064.0" y2="425.2" style="stroke-width:3.85;stroke-opacity:0.3"/>
<line x1="1079.6" y1="434.2" x2="1064.0" y2="425.2" style="stroke-width:1.75"/>
<path d="M1064 425.2 L1064 378.2 Q1064 366.5 1053.3 361 L963.9 311.5" fill="none" style="stroke-width:4.00;stroke-opacity:0.3"/>
<path d="M1064 425.2 L1064 378.2 Q1064 366.5 1053.3 361 L963.9 311.5" fill="none" style="stroke-width:1.90"/>
<line x1="963.9" y1="311.5" x2="963.9" y2="369.0" style="stroke-width:4.50;stroke-opacity:0.3"/>
<line x1="963.9" y1="311.5" x2="963.9" y2="369.0" style="stroke-width:2.40"/>
<line x1="944.8" y1="358.4" x2="963.9" y2="368.8" style="stroke-width:3.85;stroke-opacity:0.3"/>
<line x1="944.8" y1="358.4" x2="963.9" y2="368.8" style="stroke-width:1.75"/>
<line x1="963.9" y1="368.8" x2="989.8" y2="352.0" style="stroke-width:3.85;stroke-opacity:0.3"/>
<line x1="963.9" y1="368.8" x2="989.8" y2="352.0" style="stroke-width:1.75"/>
<line x1="989.8" y1="352.0" x2="989.8" y2="326.0" style="stroke-width:4.50;stroke-opacity:0.3"/>
<line x1="989.8" y1="352.0" x2="989.8" y2="326.0" style="stroke-width:2.40"/>
<line x1="1254.5" y1="602.3" x2="1291.4" y2="621.6" style="stroke-width:3.85;stroke-opacity:0.3"/>
<line x1="1254.5" y1="602.3" x2="1291.4" y2="621.6" style="stroke-width:1.75"/>
<line x1="1291.4" y1="621.6" x2="1378.4" y2="571.3" style="stroke-width:3.85;stroke-opacity:0.3"/>
<line x1="1291.4" y1="621.6" x2="1378.4" y2="571.3" style="stroke-width:1.75"/>
<line x1="1378.4" y1="571.3" x2="1342.2" y2="552.4" style="stroke-width:3.85;stroke-opacity:0.3"/>
<line x1="1378.4" y1="571.3" x2="1342.2" y2="552.4" style="stroke-width:1.75"/>
<line x1="1291.4" y1="621.6" x2="1291.4" y2="803.2" style="stroke-width:4.50;stroke-opacity:0.3"/>
<line x1="1291.4" y1="621.6" x2="1291.4" y2="803.2" style="stroke-width:2.40"/>
<line x1="1291.4" y1="803.2" x2="1378.4" y2="752.6" style="stroke-width:3.85;stroke-opacity:0.3"/>
<line x1="1291.4" y1="803.2" x2="1378.4" y2="752.6" style="stroke-width:1.75"/>
<line x1="1378.4" y1="752.6" x2="1378.4" y2="571.3" style="stroke-width:4.50;stroke-opacity:0.3"/>
<line x1="1378.4" y1="752.6" x2="1378.4" y2="571.3" style="stroke-width:2.40"/>
<line x1="1254.5" y1="602.3" x2="1254.5" y2="647.1" style="stroke-width:4.50;stroke-opacity:0.3"/>
<line x1="1254.5" y1="602.3" x2="1254.5" y2="647.1" style="stroke-width:2.40"/>
<line x1="1254.5" y1="647.1" x2="1278.2" y2="658.7" style="stroke-width:3.85;stroke-opacity:0.3"/>
<line x1="1254.5" y1="647.1" x2="1278.2" y2="658.7" style="stroke-width:1.75"/>
<line x1="1278.2" y1="658.7" x2="1278.2" y2="797.1" style="stroke-width:4.50;stroke-opacity:0.3"/>
<line x1="1278.2" y1="658.7" x2="1278.2" y2="797.1" style="stroke-width:2.40"/>
<line x1="1278.2" y1="797.1" x2="1291.4" y2="803.7" style="stroke-width:3.85;stroke-opacity:0.3"/>
<line x1="1278.2" y1="797.1" x2="1291.4" y2="803.7" style="stroke-width:1.75"/>
<ellipse cx="1337" cy="718.8" rx="11.5" ry="21" fill="#fff" transform="rotate(-6 1337 718.8)" style="stroke:none"/>
<ellipse cx="1337" cy="718.8" rx="11.5" ry="21" fill="none" transform="rotate(-6 1337 718.8)" style="stroke-width:4.70;stroke-opacity:0.3"/>
<ellipse cx="1337" cy="718.8" rx="11.5" ry="21" fill="none" transform="rotate(-6 1337 718.8)" style="stroke-width:2.60"/>
<ellipse cx="1346.8" cy="722.8" rx="11.7" ry="22.5" fill="#fff" transform="rotate(-6 1346.8 722.8)" style="stroke:none"/>
<ellipse cx="1346.8" cy="722.8" rx="11.7" ry="22.5" fill="none" transform="rotate(-6 1346.8 722.8)" style="stroke-width:4.70;stroke-opacity:0.3"/>
<ellipse cx="1346.8" cy="722.8" rx="11.7" ry="22.5" fill="none" transform="rotate(-6 1346.8 722.8)" style="stroke-width:2.60"/>
<ellipse cx="1006" cy="903" rx="11" ry="16.8" fill="none" style="stroke-width:4.80;stroke-opacity:0.3"/>
<ellipse cx="1006" cy="903" rx="11" ry="16.8" fill="none" style="stroke-width:2.70"/>
<line x1="191.8" y1="623.2" x2="191.9" y2="1167.6" style="stroke-width:4.50;stroke-opacity:0.3"/>
<line x1="191.8" y1="623.2" x2="191.9" y2="1167.6" style="stroke-width:2.40"/>
<line x1="191.9" y1="1167.6" x2="781.7" y2="1507.3" style="stroke-width:3.85;stroke-opacity:0.3"/>
<line x1="191.9" y1="1167.6" x2="781.7" y2="1507.3" style="stroke-width:1.75"/>
<line x1="781.7" y1="1507.3" x2="781.6" y2="963.0" style="stroke-width:4.50;stroke-opacity:0.3"/>
<line x1="781.7" y1="1507.3" x2="781.6" y2="963.0" style="stroke-width:2.40"/>
<line x1="781.6" y1="963.0" x2="717.7" y2="926.5" style="stroke-width:3.85;stroke-opacity:0.3"/>
<line x1="781.6" y1="963.0" x2="717.7" y2="926.5" style="stroke-width:1.75"/>
<line x1="717.7" y1="926.5" x2="717.7" y2="1359.5" style="stroke-width:4.50;stroke-opacity:0.3"/>
<line x1="717.7" y1="926.5" x2="717.7" y2="1359.5" style="stroke-width:2.40"/>
<line x1="717.7" y1="1359.5" x2="255.4" y2="1094.3" style="stroke-width:3.85;stroke-opacity:0.3"/>
<line x1="717.7" y1="1359.5" x2="255.4" y2="1094.3" style="stroke-width:1.75"/>
<line x1="255.4" y1="1094.3" x2="255.4" y2="659.4" style="stroke-width:4.50;stroke-opacity:0.3"/>
<line x1="255.4" y1="1094.3" x2="255.4" y2="659.4" style="stroke-width:2.40"/>
<line x1="255.4" y1="659.4" x2="191.8" y2="623.2" style="stroke-width:3.85;stroke-opacity:0.3"/>
<line x1="255.4" y1="659.4" x2="191.8" y2="623.2" style="stroke-width:1.75"/>
<line x1="286.8" y1="675.6" x2="683.4" y2="901.3" style="stroke-width:3.85;stroke-opacity:0.3"/>
<line x1="286.8" y1="675.6" x2="683.4" y2="901.3" style="stroke-width:1.75"/>
<line x1="683.4" y1="901.3" x2="683.4" y2="1301.2" style="stroke-width:4.50;stroke-opacity:0.3"/>
<line x1="683.4" y1="901.3" x2="683.4" y2="1301.2" style="stroke-width:2.40"/>
<line x1="683.4" y1="1301.2" x2="286.8" y2="1072.0" style="stroke-width:3.85;stroke-opacity:0.3"/>
<line x1="683.4" y1="1301.2" x2="286.8" y2="1072.0" style="stroke-width:1.75"/>
<line x1="286.8" y1="1072.0" x2="286.8" y2="675.6" style="stroke-width:4.50;stroke-opacity:0.3"/>
<line x1="286.8" y1="1072.0" x2="286.8" y2="675.6" style="stroke-width:2.40"/>
<line x1="292.6" y1="679.0" x2="292.6" y2="1069.8" style="stroke-width:4.50;stroke-opacity:0.3"/>
<line x1="292.6" y1="679.0" x2="292.6" y2="1069.8" style="stroke-width:2.40"/>
<line x1="292.6" y1="1069.8" x2="683.4" y2="1294.8" style="stroke-width:3.85;stroke-opacity:0.3"/>
<line x1="292.6" y1="1069.8" x2="683.4" y2="1294.8" style="stroke-width:1.75"/>
<path d="M165.6 878.7 L261.8 932.5 L261.8 972.7 L165.6 920.2 Z" fill="#fff" style="stroke:none"/>
<line x1="165.6" y1="878.7" x2="261.8" y2="932.5" style="stroke-width:5.30;stroke-opacity:0.3"/>
<line x1="165.6" y1="878.7" x2="261.8" y2="932.5" style="stroke-width:3.20"/>
<line x1="262.2" y1="932.5" x2="262.2" y2="972.7" style="stroke-width:6.10;stroke-opacity:0.3"/>
<line x1="262.2" y1="932.5" x2="262.2" y2="972.7" style="stroke-width:4.00"/>
<line x1="165.6" y1="920.2" x2="258.3" y2="970.9" style="stroke-width:3.85;stroke-opacity:0.3"/>
<line x1="165.6" y1="920.2" x2="258.3" y2="970.9" style="stroke-width:1.75"/>
<line x1="165.3" y1="878.0" x2="165.3" y2="921.0" style="stroke-width:4.50;stroke-opacity:0.3"/>
<line x1="165.3" y1="878.0" x2="165.3" y2="921.0" style="stroke-width:2.40"/>
<path d="M165.6 900 L172 900.5 L172 903.5 L166 907 Z" fill="#141414" stroke="none"/>
<path d="M704.3 1190.9 L801.8 1243.8 L801.8 1282.7 L704.3 1228.0 Z" fill="#fff" style="stroke:none"/>
<line x1="704.3" y1="1190.9" x2="801.8" y2="1243.8" style="stroke-width:5.30;stroke-opacity:0.3"/>
<line x1="704.3" y1="1190.9" x2="801.8" y2="1243.8" style="stroke-width:3.20"/>
<line x1="801.4" y1="1243.8" x2="801.4" y2="1282.7" style="stroke-width:5.70;stroke-opacity:0.3"/>
<line x1="801.4" y1="1243.8" x2="801.4" y2="1282.7" style="stroke-width:3.60"/>
<line x1="704.3" y1="1190.9" x2="704.3" y2="1228.0" style="stroke-width:4.50;stroke-opacity:0.3"/>
<line x1="704.3" y1="1190.9" x2="704.3" y2="1228.0" style="stroke-width:2.40"/>
<line x1="704.3" y1="1228.0" x2="798.3" y2="1280.3" style="stroke-width:3.85;stroke-opacity:0.3"/>
<line x1="704.3" y1="1228.0" x2="798.3" y2="1280.3" style="stroke-width:1.75"/>
<rect x="793.9" y="1261.5" width="6" height="7.2" fill="#141414" stroke="none"/>
<path d="M426.8 1243.8 L441.4 1234.8 L472.5 1251.3 L477.5 1247.3 Q481.5 1244.2 485.8 1246.3 Q490.4 1248.8 490.4 1253.5 L490.4 1264 L514.4 1277.2 L514.4 1325.2 L501.3 1331.6 L426.8 1291.8 Z" fill="#fff" style="stroke:none"/>
<path d="M426.8 1243.8 L441.4 1234.8 L472.5 1251.3 L477.5 1247.3 Q481.5 1244.2 485.8 1246.3 Q490.4 1248.8 490.4 1253.5 L490.4 1264 L514.4 1277.2 L514.4 1325.2 L501.3 1331.6 L426.8 1291.8 Z" fill="none" style="stroke-width:4.00;stroke-opacity:0.3"/>
<path d="M426.8 1243.8 L441.4 1234.8 L472.5 1251.3 L477.5 1247.3 Q481.5 1244.2 485.8 1246.3 Q490.4 1248.8 490.4 1253.5 L490.4 1264 L514.4 1277.2 L514.4 1325.2 L501.3 1331.6 L426.8 1291.8 Z" fill="none" style="stroke-width:1.90"/>
<path d="M426.8 1243.8 L501.3 1283.8 L501.3 1331.6" fill="none" style="stroke-width:4.00;stroke-opacity:0.3"/>
<path d="M426.8 1243.8 L501.3 1283.8 L501.3 1331.6" fill="none" style="stroke-width:1.90"/>
<line x1="501.3" y1="1283.8" x2="514.4" y2="1277.2" style="stroke-width:3.85;stroke-opacity:0.3"/>
<line x1="501.3" y1="1283.8" x2="514.4" y2="1277.2" style="stroke-width:1.75"/>
<ellipse cx="484.2" cy="1256.6" rx="4" ry="3.2" fill="none" transform="rotate(20 484.2 1256.6)" style="stroke-width:4.00;stroke-opacity:0.3"/>
<ellipse cx="484.2" cy="1256.6" rx="4" ry="3.2" fill="none" transform="rotate(20 484.2 1256.6)" style="stroke-width:1.90"/>
<line x1="1152.0" y1="38.7" x2="878.3" y2="208.0" style="stroke-width:3.90;stroke-opacity:0.3"/>
<line x1="1152.0" y1="38.7" x2="878.3" y2="208.0" style="stroke-width:1.80"/>
<line x1="1265.8" y1="128.3" x2="629.8" y2="552.0" style="stroke-width:3.90;stroke-opacity:0.3"/>
<line x1="1265.8" y1="128.3" x2="629.8" y2="552.0" style="stroke-width:1.80"/>
<line x1="1443.0" y1="233.5" x2="785.0" y2="668.0" style="stroke-width:3.90;stroke-opacity:0.3"/>
<line x1="1443.0" y1="233.5" x2="785.0" y2="668.0" style="stroke-width:1.80"/>
<line x1="1640.9" y1="447.3" x2="1314.5" y2="644.0" style="stroke-width:3.90;stroke-opacity:0.3"/>
<line x1="1640.9" y1="447.3" x2="1314.5" y2="644.0" style="stroke-width:1.80"/>
<line x1="1659.4" y1="547.7" x2="1343.0" y2="734.0" style="stroke-width:3.90;stroke-opacity:0.3"/>
<line x1="1659.4" y1="547.7" x2="1343.0" y2="734.0" style="stroke-width:1.80"/>
<line x1="278.6" y1="365.6" x2="432.4" y2="463.6" style="stroke-width:3.90;stroke-opacity:0.3"/>
<line x1="278.6" y1="365.6" x2="432.4" y2="463.6" style="stroke-width:1.80"/>
<line x1="122.3" y1="511.3" x2="284.0" y2="609.5" style="stroke-width:3.90;stroke-opacity:0.3"/>
<line x1="122.3" y1="511.3" x2="284.0" y2="609.5" style="stroke-width:1.80"/>
<line x1="59.2" y1="598.6" x2="348.9" y2="784.1" style="stroke-width:3.90;stroke-opacity:0.3"/>
<line x1="59.2" y1="598.6" x2="348.9" y2="784.1" style="stroke-width:1.80"/>
<line x1="48.5" y1="828.5" x2="166.5" y2="902.0" style="stroke-width:3.90;stroke-opacity:0.3"/>
<line x1="48.5" y1="828.5" x2="166.5" y2="902.0" style="stroke-width:1.80"/>
<line x1="390.8" y1="1242.2" x2="243.6" y2="1497.3" style="stroke-width:3.90;stroke-opacity:0.3"/>
<line x1="390.8" y1="1242.2" x2="243.6" y2="1497.3" style="stroke-width:1.80"/>
<line x1="770.0" y1="1245.2" x2="1011.4" y2="1656.0" style="stroke-width:3.90;stroke-opacity:0.3"/>
<line x1="770.0" y1="1245.2" x2="1011.4" y2="1656.0" style="stroke-width:1.80"/>
<line x1="1140.8" y1="1244.5" x2="1297.1" y2="1500.2" style="stroke-width:3.90;stroke-opacity:0.3"/>
<line x1="1140.8" y1="1244.5" x2="1297.1" y2="1500.2" style="stroke-width:1.80"/>
</g>
<g>
<g transform="translate(1173.00 0) scale(1.065 1) translate(-1173.00 0)"><clipPath id="c0"><text x="1154.40" y="64.4">2</text></clipPath><text x="1152.60" y="64.4" clip-path="url(#c0)">2</text></g>
<g transform="translate(1285.90 0) scale(1.065 1) translate(-1285.90 0)"><clipPath id="c1"><text x="1265.80" y="156.4">1</text></clipPath><text x="1264.00" y="156.4" clip-path="url(#c1)">1</text></g>
<g transform="translate(1324.40 0) scale(1.065 1) translate(-1324.40 0)"><clipPath id="c2"><text x="1305.80" y="156.4">2</text></clipPath><text x="1304.00" y="156.4" clip-path="url(#c2)">2</text></g>
<g transform="translate(1463.10 0) scale(1.065 1) translate(-1463.10 0)"><clipPath id="c3"><text x="1443.00" y="262.5">1</text></clipPath><text x="1441.20" y="262.5" clip-path="url(#c3)">1</text></g>
<g transform="translate(1501.75 0) scale(1.065 1) translate(-1501.75 0)"><clipPath id="c4"><text x="1482.20" y="262.5">3</text></clipPath><text x="1480.40" y="262.5" clip-path="url(#c4)">3</text></g>
<g transform="translate(1657.25 0) scale(1.065 1) translate(-1657.25 0)"><clipPath id="c5"><text x="1637.70" y="476.2">3</text></clipPath><text x="1635.90" y="476.2" clip-path="url(#c5)">3</text></g>
<g transform="translate(1679.95 0) scale(1.03 1) translate(-1679.95 0)"><clipPath id="c6"><text x="1659.95" y="573.7">4</text></clipPath><text x="1659.05" y="573.7" clip-path="url(#c6)">4</text></g>
<g transform="translate(254.40 0) scale(1.065 1) translate(-254.40 0)"><clipPath id="c7"><text x="234.30" y="394.8">5</text></clipPath><text x="232.50" y="394.8" clip-path="url(#c7)">5</text></g>
<g transform="translate(61.50 0) scale(1.065 1) translate(-61.50 0)"><clipPath id="c8"><text x="41.40" y="527.4">1</text></clipPath><text x="39.60" y="527.4" clip-path="url(#c8)">1</text></g>
<g transform="translate(101.45 0) scale(1.065 1) translate(-101.45 0)"><clipPath id="c9"><text x="82.30" y="526.6">0</text></clipPath><text x="80.50" y="526.6" clip-path="url(#c9)">0</text></g>
<g transform="translate(35.55 0) scale(1.065 1) translate(-35.55 0)"><clipPath id="c10"><text x="16.40" y="632.6">9</text></clipPath><text x="14.60" y="632.6" clip-path="url(#c10)">9</text></g>
<g transform="translate(26.65 0) scale(1.065 1) translate(-26.65 0)"><clipPath id="c11"><text x="7.50" y="858.4">8</text></clipPath><text x="5.70" y="858.4" clip-path="url(#c11)">8</text></g>
<g transform="translate(217.25 0) scale(1.065 1) translate(-217.25 0)"><clipPath id="c12"><text x="197.70" y="1533.1">6</text></clipPath><text x="195.90" y="1533.1" clip-path="url(#c12)">6</text></g>
<g transform="translate(1036.80 0) scale(1.065 1) translate(-1036.80 0)"><clipPath id="c13"><text x="1015.80" y="1689.4">7</text></clipPath><text x="1014.00" y="1689.4" clip-path="url(#c13)">7</text></g>
<g transform="translate(1320.00 0) scale(1.065 1) translate(-1320.00 0)"><clipPath id="c14"><text x="1299.90" y="1538.5">1</text></clipPath><text x="1298.10" y="1538.5" clip-path="url(#c14)">1</text></g>
</g>
</svg>
</body></html>
